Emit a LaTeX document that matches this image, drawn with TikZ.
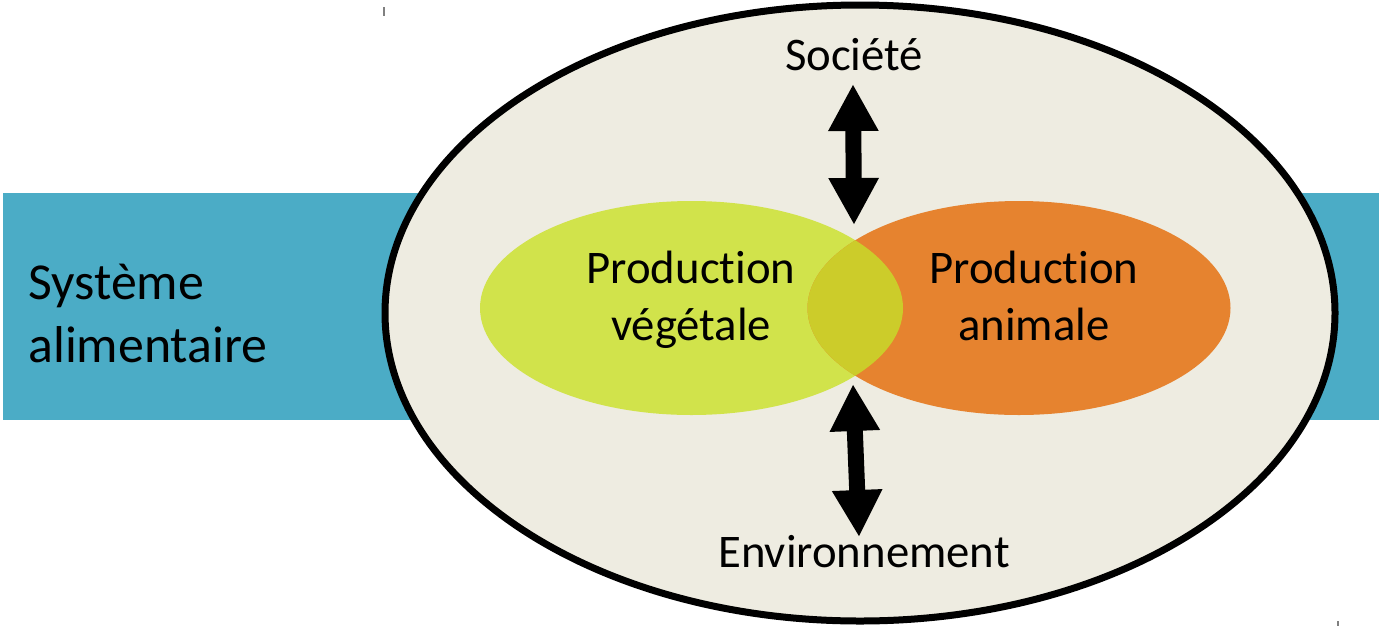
\documentclass[tikz,border=0pt]{standalone}
\usepackage{fontspec}
\setmainfont{Carlito}[Ligatures={NoCommon,NoRare}]
\usetikzlibrary{arrows.meta}
\definecolor{bandblue}{HTML}{4BACC6}
\definecolor{shell}{HTML}{EEECE1}
\definecolor{plantgreen}{HTML}{D1E34B}
\definecolor{animalorange}{HTML}{E6832F}
\definecolor{bothcol}{HTML}{CCCC2A}
\tikzset{
  word/.style={font=\fontsize{26.6}{32.3}\selectfont, align=center, inner sep=0pt, anchor=base},
  bigword/.style={font=\fontsize{29.5}{35.7}\selectfont, align=left, inner sep=0pt, anchor=base west},
  link/.style={line width=0.32cm,
    {Triangle[width=0.94cm,length=0.94cm]}-{Triangle[width=0.94cm,length=0.94cm]}}
}
\begin{document}
\begin{tikzpicture}[x=0.02cm,y=-0.02cm]
\useasboundingbox (0,0) rectangle (1379,626);
% band and outer shell
\fill[bandblue] (3,193) rectangle (1379,420);
\draw[fill=shell, line width=0.14cm] (860,313) ellipse [x radius=475, y radius=308];
% the two productions
\fill[plantgreen] (691.5,308) ellipse [x radius=211.5, y radius=107];
\fill[animalorange] (1019,308) ellipse [x radius=211.5, y radius=107];
\begin{scope}
  \clip (691.5,308) ellipse [x radius=211.5, y radius=107];
  \fill[bothcol] (1019,308) ellipse [x radius=211.5, y radius=107];
\end{scope}
\draw[gray, line width=0.04cm] (384,7) -- (384,16) (1338,621) -- (1338,626);
% texts (base = last line)
\node[bigword] (sys) at (28,362) {Système\\alimentaire};
\node[word] (veg) at (691,340) {Production\\végétale};
\node[word] (ani) at (1034,340) {Production\\animale};
\node[word] (soc) at (854,70) {Société};
\node[word] (env) at (864,567) {Environnement};
% arrows
\coordinate (soctip) at (853,84);
\coordinate (topmeet) at (854,225);
\coordinate (botmeet) at (853,384);
\coordinate (envtip) at (859,537);
\draw[link] (soctip) -- (topmeet);
\draw[link] (botmeet) -- (envtip);
\end{tikzpicture}
\end{document}
